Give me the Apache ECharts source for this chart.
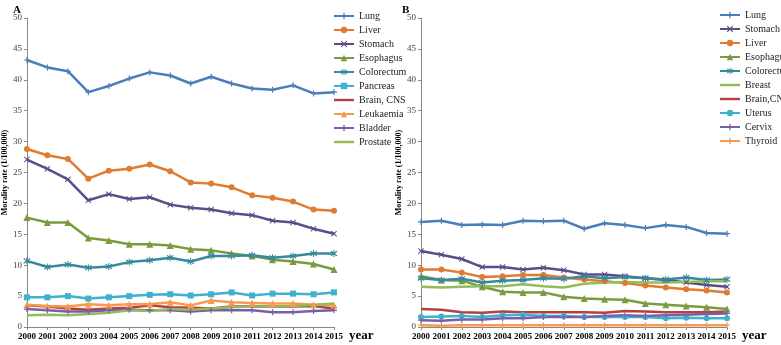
<!DOCTYPE html>
<html>
<head>
<meta charset="utf-8">
<script src="https://cdn.jsdelivr.net/npm/echarts@6/dist/echarts.min.js"></script>
<style>
  html, body { margin: 0; padding: 0; background: #fff; }
  #chart { width: 781px; height: 345px; }
</style>
</head>
<body>
<div id="chart"></div>
<script>
var years = ['2000','2001','2002','2003','2004','2005','2006','2007','2008','2009','2010','2011','2012','2013','2014','2015'];

// Panel A
var lungA       = [43.2, 42.0, 41.4, 38.0, 39.0, 40.2, 41.2, 40.7, 39.4, 40.5, 39.4, 38.6, 38.4, 39.1, 37.8, 38.0];
var liverA      = [28.8, 27.8, 27.2, 24.0, 25.3, 25.6, 26.3, 25.2, 23.4, 23.2, 22.6, 21.3, 20.9, 20.3, 19.0, 18.8];
var stomachA    = [27.1, 25.6, 23.9, 20.5, 21.5, 20.7, 21.0, 19.8, 19.3, 19.0, 18.4, 18.1, 17.2, 16.9, 15.9, 15.1];
var esophagusA  = [17.7, 16.9, 16.9, 14.4, 14.0, 13.4, 13.4, 13.2, 12.6, 12.4, 11.9, 11.5, 10.9, 10.6, 10.2, 9.3];
var colorectumA = [10.7, 9.7, 10.1, 9.6, 9.8, 10.5, 10.8, 11.2, 10.6, 11.5, 11.5, 11.6, 11.2, 11.5, 11.9, 11.9];
var pancreasA   = [4.8, 4.8, 5.0, 4.6, 4.8, 5.0, 5.2, 5.3, 5.1, 5.3, 5.6, 5.1, 5.4, 5.4, 5.3, 5.6];
var brainA      = [3.5, 3.3, 3.0, 2.8, 3.0, 3.1, 3.5, 3.2, 3.1, 3.0, 3.3, 3.3, 3.3, 3.3, 3.4, 3.0];
var leukaemiaA  = [3.6, 3.4, 3.3, 3.7, 3.5, 3.7, 3.7, 4.0, 3.5, 4.3, 4.0, 3.9, 3.8, 3.8, 3.6, 3.5];
var bladderA    = [2.9, 2.7, 2.5, 2.5, 2.7, 2.8, 2.7, 2.7, 2.5, 2.7, 2.7, 2.7, 2.4, 2.4, 2.6, 2.7];
var prostateA   = [1.9, 2.0, 1.9, 2.1, 2.3, 2.7, 2.6, 2.9, 2.8, 3.0, 3.2, 3.3, 3.3, 3.4, 3.6, 3.8];

// Panel B
var lungB       = [17.0, 17.2, 16.5, 16.6, 16.5, 17.2, 17.1, 17.2, 15.9, 16.8, 16.5, 16.0, 16.5, 16.2, 15.2, 15.1];
var stomachB    = [12.3, 11.7, 11.0, 9.7, 9.7, 9.3, 9.6, 9.2, 8.5, 8.5, 8.2, 7.9, 7.6, 7.2, 6.8, 6.5];
var liverB      = [9.3, 9.3, 8.8, 8.1, 8.2, 8.4, 8.4, 8.0, 7.7, 7.4, 7.1, 6.7, 6.4, 6.1, 5.9, 5.6];
var esophagusB  = [8.2, 7.6, 7.5, 6.5, 5.7, 5.6, 5.6, 4.9, 4.6, 4.5, 4.4, 3.8, 3.6, 3.4, 3.2, 2.9];
var colorectumB = [7.9, 7.6, 7.8, 7.2, 7.5, 7.6, 7.9, 7.8, 8.2, 7.9, 8.1, 7.9, 7.7, 8.0, 7.6, 7.7];
var breastB     = [6.5, 6.4, 6.5, 6.6, 6.6, 6.9, 6.6, 6.4, 7.0, 7.2, 7.3, 7.2, 7.2, 7.3, 7.4, 7.4];
var brainB      = [2.9, 2.8, 2.4, 2.3, 2.5, 2.4, 2.4, 2.4, 2.4, 2.3, 2.6, 2.5, 2.4, 2.4, 2.4, 2.5];
var uterusB     = [1.6, 1.7, 1.8, 1.6, 1.9, 2.0, 1.8, 1.8, 1.6, 1.6, 1.6, 1.6, 1.4, 1.5, 1.4, 1.4];
var cervixB     = [1.1, 1.0, 1.2, 1.2, 1.4, 1.4, 1.6, 1.6, 1.6, 1.8, 1.9, 1.8, 1.9, 2.0, 2.1, 2.2];
var thyroidB    = [0.3, 0.2, 0.3, 0.3, 0.3, 0.3, 0.3, 0.3, 0.3, 0.3, 0.3, 0.3, 0.3, 0.3, 0.3, 0.3];

var namesA = ['Lung', 'Liver', 'Stomach', 'Esophagus', 'Colorectum', 'Pancreas', 'Brain, CNS', 'Leukaemia', 'Bladder', 'Prostate'];
var namesB = ['Lung', 'Stomach', 'Liver', 'Esophagus', 'Colorectum', 'Breast', 'Brain,CNS', 'Uterus', 'Cervix', 'Thyroid'];
// series drawn as plain lines (no markers)
var plainA = ['Brain, CNS', 'Prostate'];
var plainB = ['Breast', 'Brain,CNS'];

var plusSym  = 'path://M4,0L6,0L6,4L10,4L10,6L6,6L6,10L4,10L4,6L0,6L0,4L4,4Z';
var crossSym = 'path://M1,0L5,3.6L9,0L10,1L6.4,5L10,9L9,10L5,6.4L1,10L0,9L3.6,5L0,1Z';
var starSym  = 'path://M4.3,0L5.7,0L5.7,3.3L9,1L9.8,2.2L6.5,5L9.8,7.8L9,9L5.7,6.7L5.7,10L4.3,10L4.3,6.7L1,9L0.2,7.8L3.5,5L0.2,2.2L1,1L4.3,3.3Z';
var barIcon  = 'path://M0,0M20,0M20,8M0,8M0,2.8L20,2.8L20,5.2L0,5.2Z';

var serif = '"Liberation Serif", "DejaVu Serif", serif';

function line(name, data, color, symbol, size, xi) {
  return {
    name: name,
    type: 'line',
    xAxisIndex: xi,
    yAxisIndex: xi,
    data: data,
    color: color,
    symbol: symbol || 'none',
    symbolSize: size || 6,
    showSymbol: !!symbol,
    lineStyle: { width: 2.5, color: color },
    itemStyle: { color: color },
    animation: false
  };
}

var seriesA = [
  line('Lung', lungA, '#4a7ebb', plusSym, 6, 0),
  line('Liver', liverA, '#e07b30', 'circle', 6, 0),
  line('Stomach', stomachA, '#5b4c8a', crossSym, 6, 0),
  line('Esophagus', esophagusA, '#7c9a3e', 'triangle', 7, 0),
  line('Colorectum', colorectumA, '#36899c', starSym, 7, 0),
  line('Pancreas', pancreasA, '#3fb0cf', 'rect', 6, 0),
  line('Brain, CNS', brainA, '#b44040', null, 0, 0),
  line('Leukaemia', leukaemiaA, '#f79a50', 'triangle', 7, 0),
  line('Bladder', bladderA, '#7a5fa6', plusSym, 6, 0),
  line('Prostate', prostateA, '#93bb5a', null, 0, 0)
];

var seriesB = [
  line('B:Lung', lungB, '#4a7ebb', plusSym, 6, 1),
  line('B:Stomach', stomachB, '#5b4c8a', crossSym, 6, 1),
  line('B:Liver', liverB, '#e07b30', 'circle', 6, 1),
  line('B:Esophagus', esophagusB, '#7c9a3e', 'triangle', 7, 1),
  line('B:Colorectum', colorectumB, '#36899c', starSym, 7, 1),
  line('B:Breast', breastB, '#93bb5a', null, 0, 1),
  line('B:Brain,CNS', brainB, '#b44040', null, 0, 1),
  line('B:Uterus', uterusB, '#3fb0cf', 'circle', 6, 1),
  line('B:Cervix', cervixB, '#7a5fa6', plusSym, 6, 1),
  line('B:Thyroid', thyroidB, '#f79a50', plusSym, 6, 1)
];

function xAx(gi) {
  return {
    type: 'category',
    gridIndex: gi,
    data: years,
    boundaryGap: false,
    name: 'year',
    nameLocation: 'end',
    nameGap: 14,
    nameTextStyle: { fontFamily: serif, fontWeight: 'bold', fontSize: 13, color: '#000', verticalAlign: 'top', padding: [2, 0, 0, 0] },
    axisLine: { lineStyle: { color: '#888', width: 1 } },
    axisTick: { show: true, length: 3, alignWithLabel: true, lineStyle: { color: '#888' } },
    axisLabel: { interval: 0, fontFamily: serif, fontWeight: 'bold', fontSize: 9, color: '#000', margin: 5 },
    splitLine: { show: false }
  };
}

function yAx(gi) {
  return {
    type: 'value',
    gridIndex: gi,
    min: 0,
    max: 50,
    interval: 5,
    name: 'Morality rate (1/100,000)',
    nameLocation: 'middle',
    nameGap: 17,
    nameTextStyle: { fontFamily: serif, fontWeight: 'bold', fontSize: 8, color: '#000' },
    axisLine: { show: true, lineStyle: { color: '#888', width: 1 } },
    axisTick: { show: true, length: 3, lineStyle: { color: '#888' } },
    axisLabel: { fontFamily: serif, fontSize: 9, color: '#444', margin: 5 },
    splitLine: { show: false }
  };
}

function legendOf(names, plain, left, top, prefix) {
  return {
    orient: 'vertical',
    left: left,
    top: top,
    data: names.map(function (n) {
      var item = { name: prefix + n };
      if (plain.indexOf(n) >= 0) item.icon = barIcon;
      return item;
    }),
    formatter: function (n) { return n.replace(/^B:/, ''); },
    itemWidth: 20,
    itemHeight: 8,
    itemGap: 4,
    textStyle: { fontFamily: serif, fontSize: 10, color: '#222' },
    selectedMode: false
  };
}

var chart = echarts.init(document.getElementById('chart'));
chart.setOption({
  backgroundColor: '#fff',
  animation: false,
  title: [
    { text: 'A', left: 8, top: 0, textStyle: { fontFamily: serif, fontWeight: 'bold', fontSize: 11, color: '#000' } },
    { text: 'B', left: 397, top: 0, textStyle: { fontFamily: serif, fontWeight: 'bold', fontSize: 11, color: '#000' } }
  ],
  legend: [
    legendOf(namesA, plainA, 328, 6, ''),
    legendOf(namesB, plainB, 714, 5, 'B:')
  ],
  grid: [
    { left: 26, right: 447, top: 18, bottom: 18 },
    { left: 421, right: 54, top: 18, bottom: 18 }
  ],
  xAxis: [xAx(0), xAx(1)],
  yAxis: [yAx(0), yAx(1)],
  series: seriesA.concat(seriesB)
});
</script>
</body>
</html>
